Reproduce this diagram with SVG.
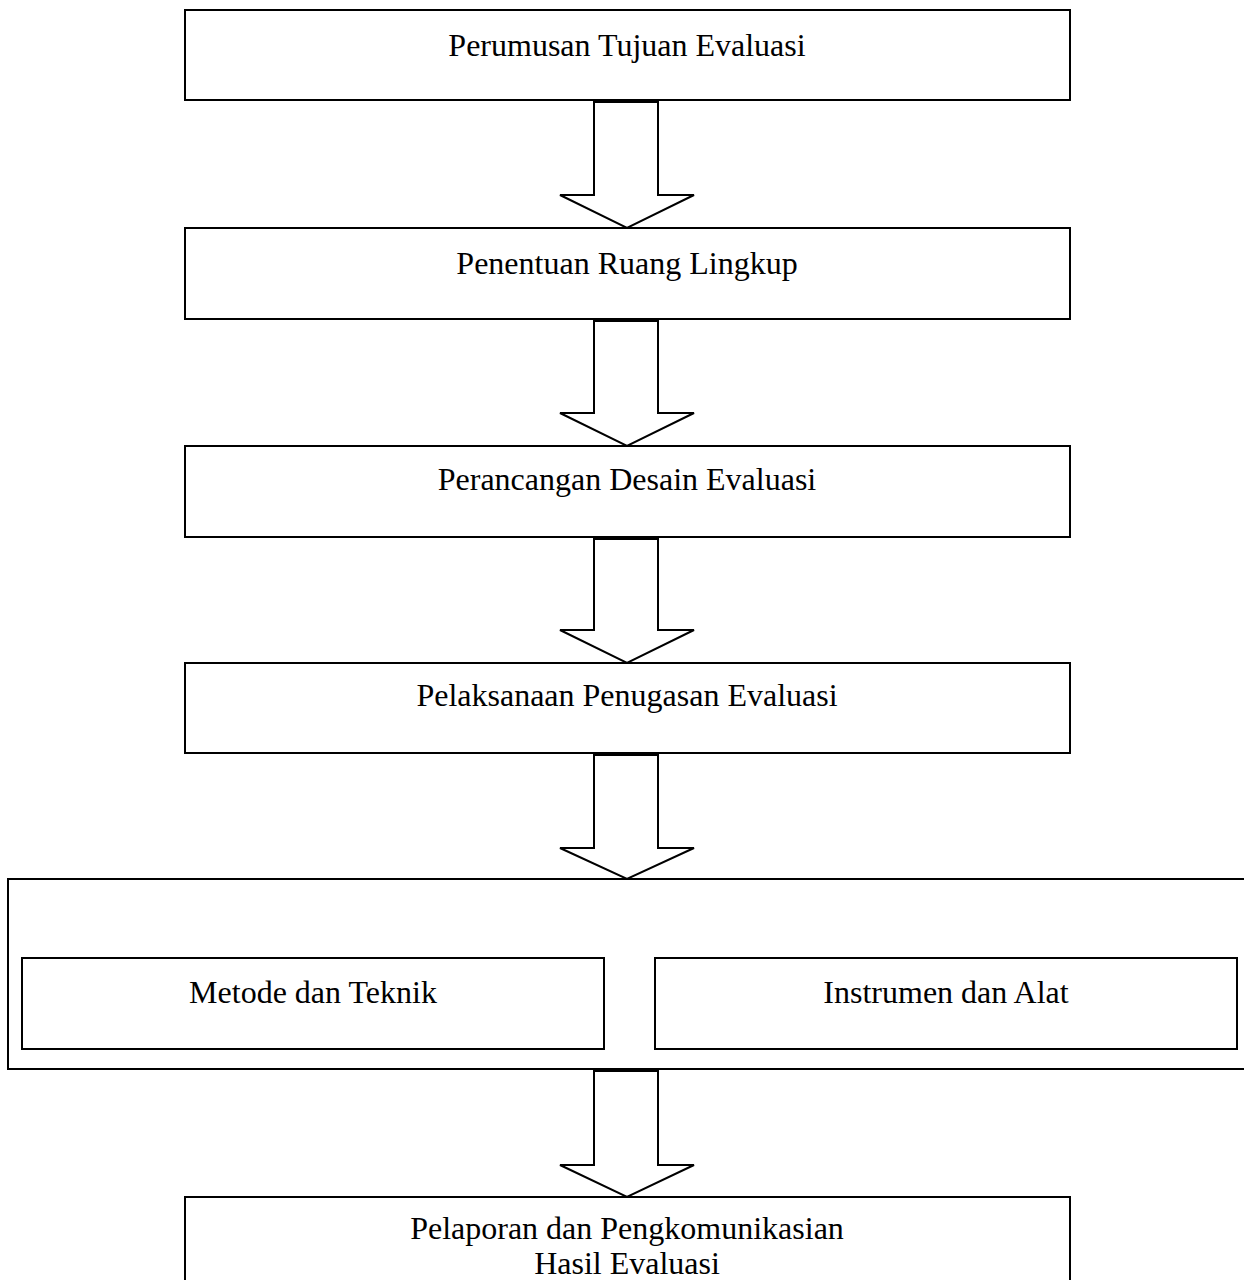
<svg xmlns="http://www.w3.org/2000/svg" width="1244" height="1280" viewBox="0 0 1244 1280">
<style>
.box{fill:#fff;stroke:#000;stroke-width:2}
.arr{fill:#fff;stroke:#000;stroke-width:2;stroke-linejoin:miter}
.t{font-family:"Liberation Serif","Times New Roman",serif;font-size:32px;fill:#000;text-anchor:middle}
</style>
<rect width="1244" height="1280" fill="#fff"/>
<g id="n1"><rect class="box" x="185" y="10" width="885" height="90"/><text class="t" x="627" y="56">Perumusan Tujuan Evaluasi</text></g>
<g id="n2"><rect class="box" x="185" y="228" width="885" height="91"/><text class="t" x="627" y="274">Penentuan Ruang Lingkup</text></g>
<g id="n3"><rect class="box" x="185" y="446" width="885" height="91"/><text class="t" x="627" y="490">Perancangan Desain Evaluasi</text></g>
<g id="n4"><rect class="box" x="185" y="663" width="885" height="90"/><text class="t" x="627" y="706">Pelaksanaan Penugasan Evaluasi</text></g>
<g id="n5"><rect class="box" x="8" y="879" width="1250" height="190"/></g>
<g id="n5a"><rect class="box" x="22" y="958" width="582" height="91"/><text class="t" x="313" y="1003">Metode dan Teknik</text></g>
<g id="n5b"><rect class="box" x="655" y="958" width="582" height="91"/><text class="t" x="946" y="1003">Instrumen dan Alat</text></g>
<g id="n6"><rect class="box" x="185" y="1197" width="885" height="95"/><text class="t" x="627" y="1239">Pelaporan dan Pengkomunikasian</text><text class="t" x="627" y="1274">Hasil Evaluasi</text></g>
<g id="connectors">
<polygon class="arr" points="594,102 658,102 658,195 694,195 627,228 560,195 594,195"/>
<polygon class="arr" points="594,321 658,321 658,413 694,413 627,446 560,413 594,413"/>
<polygon class="arr" points="594,539 658,539 658,630 694,630 627,663 560,630 594,630"/>
<polygon class="arr" points="594,755 658,755 658,848 694,848 627,879 560,848 594,848"/>
<polygon class="arr" points="594,1071 658,1071 658,1165 694,1165 627,1197 560,1165 594,1165"/>
</g>
</svg>
